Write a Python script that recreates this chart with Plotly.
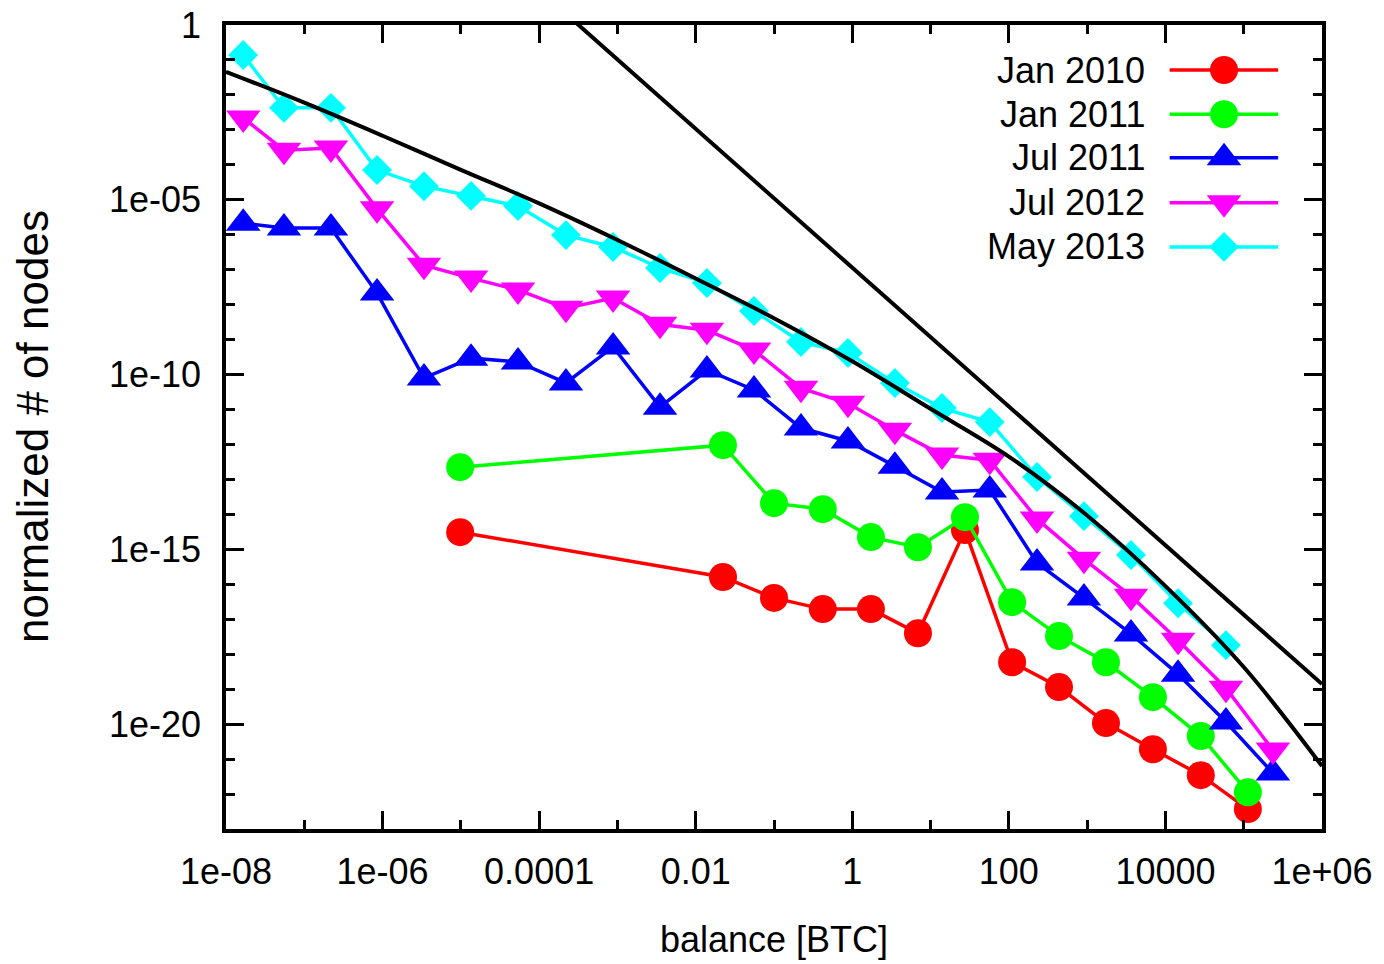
import plotly.graph_objects as go

# Balance bins [BTC]
balance_fine = [1.66e-8, 5.5e-8, 2.19e-7, 8.5e-7, 3.38e-6, 1.35e-5, 5.37e-5,
                2.2e-4, 8.8e-4, 3.5e-3, 0.0139, 0.0555, 0.221, 0.88, 3.5, 14.0,
                57.0, 229, 910, 3630, 14500, 59300, 236000]
balance_coarse = [9.8e-6, 0.0223, 0.1, 0.42, 1.73, 6.9, 27.5, 110, 437, 1740,
                  6920, 28300, 113000]

# Normalized number of nodes per bin
jan2010 = [3.1e-15, 1.62e-16, 4.07e-17, 1.95e-17, 1.95e-17, 3.98e-18, 3.55e-15,
           5.89e-19, 1.15e-19, 1.07e-20, 1.91e-21, 3.47e-22, 3.72e-23]
jan2011 = [2.24e-13, 9.55e-13, 2.09e-14, 1.41e-14, 2.24e-15, 1.15e-15, 8.32e-15,
           3.09e-17, 3.31e-18, 5.89e-19, 5.89e-20, 4.57e-21, 1.12e-22]
jul2011 = [2.14e-6, 1.55e-6, 1.55e-6, 2.14e-8, 7.94e-11, 2.95e-10, 2.29e-10,
           5.75e-11, 6.17e-10, 1.17e-11, 1.35e-10, 3.63e-11, 2.95e-12, 1.26e-12,
           2.40e-13, 4.37e-14, 5.01e-14, 4.07e-16, 4.07e-17, 3.80e-18, 2.69e-19,
           1.15e-20, 3.98e-22]
jul2012 = [2.19e-3, 2.63e-4, 3.02e-4, 5.50e-6, 1.35e-7, 5.75e-8, 2.63e-8,
           7.94e-9, 1.55e-8, 2.75e-9, 1.86e-9, 5.01e-10, 4.07e-11, 1.51e-11,
           2.57e-12, 5.01e-13, 3.55e-13, 7.41e-15, 5.25e-16, 4.57e-17, 2.51e-18,
           1.07e-19, 1.82e-21]
may2013 = [0.138, 4.27e-3, 4.27e-3, 7.08e-5, 2.45e-5, 1.29e-5, 6.61e-6,
           9.77e-7, 4.47e-7, 1.12e-7, 4.17e-8, 6.61e-9, 8.51e-10, 4.17e-10,
           5.75e-11, 1.10e-11, 4.37e-12, 1.17e-13, 8.91e-15, 6.92e-16, 2.88e-17,
           1.82e-18]

# Fitted reference curves (sampled once per decade)
fit_curve_x = [1e-8, 1e-7, 1e-6, 1e-5, 1e-4, 1e-3, 1e-2, 1e-1, 1, 10, 100,
               1e3, 1e4, 1e5, 1e6]
fit_curve_y = [4.57e-2, 6.0e-3, 6.8e-4, 7.2e-5, 7.9e-6, 7.1e-7, 5.6e-8,
               4.1e-9, 2.4e-10, 1.05e-11, 4.5e-13, 9.3e-15, 8.9e-17,
               4.3e-19, 6.3e-22]
power_law_x = [1e-4, 1e6]
power_law_y = [10, 1.4e-19]

series = [
    ("Jan 2010", balance_coarse, jan2010, "#ff0000", "circle", 28),
    ("Jan 2011", balance_coarse, jan2011, "#00ff00", "circle", 28),
    ("Jul 2011", balance_fine, jul2011, "#0000ff", "triangle-up", 30),
    ("Jul 2012", balance_fine, jul2012, "#ff00ff", "triangle-down", 30),
    ("May 2013", balance_fine[:len(may2013)], may2013, "#00ffff", "diamond", 23),
]

x_tick_vals = [1e-8, 1e-6, 1e-4, 1e-2, 1, 100, 1e4, 1e6]
x_tick_text = ["1e-08", "1e-06", "0.0001", "0.01", "1", "100", "10000", "1e+06"]
y_tick_vals = [1, 1e-5, 1e-10, 1e-15, 1e-20]
y_tick_text = ["1", "1e-05", "1e-10", "1e-15", "1e-20"]

FONT = "Liberation Sans, Arial, sans-serif"
FS = 36

fig = go.Figure()

for name, xs, ys, color, symbol, size in series:
    fig.add_trace(go.Scatter(
        x=xs, y=ys, mode="lines+markers", name=name,
        line=dict(color=color, width=3.5),
        marker=dict(symbol=symbol, size=size, color=color,
                    line=dict(width=0)),
        cliponaxis=True, showlegend=False,
    ))

fig.add_trace(go.Scatter(x=fit_curve_x, y=fit_curve_y, mode="lines",
                         line=dict(color="black", width=4, shape="spline",
                                   smoothing=1.0),
                         showlegend=False))
fig.add_trace(go.Scatter(x=power_law_x, y=power_law_y, mode="lines",
                         line=dict(color="black", width=4),
                         showlegend=False))

# Key: label on the left, sample line with marker on the right
key_rows = [0.944, 0.889, 0.835, 0.779, 0.724]
for (name, xs, ys, color, symbol, size), ky in zip(series, key_rows):
    fig.add_trace(go.Scatter(
        x=[0.861, 0.9106, 0.960], y=[ky, ky, ky], xaxis="x2", yaxis="y2",
        mode="lines", line=dict(color=color, width=3.5),
        showlegend=False, hoverinfo="skip"))
    fig.add_trace(go.Scatter(
        x=[0.9106], y=[ky], xaxis="x2", yaxis="y2", mode="markers",
        marker=dict(symbol=symbol, size=size, color=color, line=dict(width=0)),
        showlegend=False, hoverinfo="skip"))
    fig.add_annotation(x=0.840, y=ky, xref="x2", yref="y2", text=name,
                       showarrow=False, xanchor="right", yanchor="middle",
                       font=dict(family=FONT, size=FS, color="black"))

axis_common = dict(
    showline=True, linecolor="black", linewidth=3.5, mirror="allticks",
    ticks="inside", ticklen=18, tickwidth=3, tickcolor="black",
    showgrid=False, zeroline=False, automargin=False,
    tickfont=dict(family=FONT, size=FS, color="black"),
)

fig.update_layout(
    width=1384, height=964,
    margin=dict(l=226, r=62, t=25, b=135),
    paper_bgcolor="white", plot_bgcolor="white",
    showlegend=False,
    xaxis=dict(type="log", range=[-8, 6], tickmode="array",
               tickvals=x_tick_vals, ticktext=x_tick_text,
               ticklabelstandoff=8,
               minor=dict(tickmode="array",
                          tickvals=[10.0 ** e for e in range(-8, 7)],
                          ticks="inside", ticklen=9, tickwidth=3,
                          tickcolor="black", showgrid=False),
               **axis_common),
    yaxis=dict(type="log", range=[-23, 0], tickmode="array",
               tickvals=y_tick_vals, ticktext=y_tick_text,
               ticklabelstandoff=14,
               minor=dict(tickmode="array",
                          tickvals=[10.0 ** -e for e in range(0, 24)],
                          ticks="inside", ticklen=9, tickwidth=3,
                          tickcolor="black", showgrid=False),
               **axis_common),
    xaxis2=dict(overlaying="x", range=[0, 1], visible=False, anchor="y2",
                automargin=False),
    yaxis2=dict(overlaying="y", range=[0, 1], visible=False, anchor="x2",
                automargin=False),
    annotations=list(fig.layout.annotations) + [
        dict(text="balance [BTC]", x=0.5, y=-0.138, xref="paper", yref="paper",
             showarrow=False, xanchor="center", yanchor="middle",
             font=dict(family=FONT, size=FS, color="black")),
        dict(text="normalized # of nodes", x=-0.177, y=0.5, xref="paper",
             yref="paper", showarrow=False, textangle=-90,
             xanchor="center", yanchor="middle",
             font=dict(family=FONT, size=44, color="black")),
    ],
)

fig.write_html("out.html")
